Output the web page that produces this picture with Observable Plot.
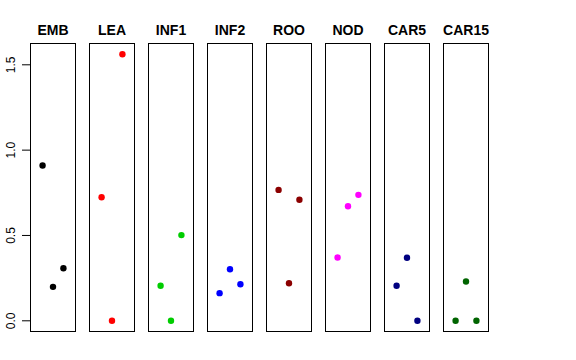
<!DOCTYPE html>
<html>
<head>
<meta charset="utf-8">
<script src="https://cdn.jsdelivr.net/npm/d3@7"></script>
<script src="https://cdn.jsdelivr.net/npm/@observablehq/plot@0.6"></script>
<style>
  html, body { margin: 0; padding: 0; background: #fff; }
</style>
</head>
<body>
<div id="chart"></div>
<script>
// Panel categories and colours
const panels = ["EMB", "LEA", "INF1", "INF2", "ROO", "NOD", "CAR5", "CAR15"];
const colors = ["black", "red", "#00CD00", "blue", "#8B0000", "magenta", "#000080", "#006400"];
const positions = [1, 2, 3];
const yTicks = [0, 0.5, 1.0, 1.5];

// Values per panel (three points each)
const emb   = [0.910, 0.199, 0.308];
const lea   = [0.724, 0.000, 1.562];
const inf1  = [0.205, 0.000, 0.502];
const inf2  = [0.162, 0.302, 0.214];
const roo   = [0.767, 0.220, 0.709];
const nod   = [0.371, 0.671, 0.738];
const car5  = [0.205, 0.369, 0.000];
const car15 = [0.000, 0.230, 0.000];

const series = [emb, lea, inf1, inf2, roo, nod, car5, car15];
const table = [];
panels.forEach((p, i) => {
  series[i].forEach((v, j) => {
    table.push({panel: p, pos: positions[j], value: v, color: colors[i]});
  });
});

const chart = Plot.plot({
  width: 576,
  height: 360,
  marginLeft: 29,
  marginRight: 88,
  marginTop: 43,
  marginBottom: 29,
  style: {fontFamily: "'Liberation Sans', Arial, Helvetica, sans-serif", fontSize: "12px", background: "white", color: "black"},
  fx: {domain: panels, paddingInner: 0.24, paddingOuter: 0, axis: null, label: null},
  x: {domain: [-0.16, 4.16], axis: null},
  y: {domain: [-0.0627, 1.6248], label: null},
  marks: [
    Plot.frame({stroke: "black", strokeWidth: 1}),
    Plot.axisY({ticks: yTicks, tickFormat: d3.format(".1f"), tickSize: 8, tickPadding: 8, tickRotate: -90, label: null, fontSize: 12}),
    Plot.text(panels, {fx: d => d, text: d => d, frameAnchor: "top", dy: -9, lineAnchor: "bottom", fontWeight: "bold", fontSize: 14}),
    Plot.dot(table, {fx: "panel", x: "pos", y: "value", fill: "color", r: 3.2, stroke: null})
  ]
});
document.getElementById("chart").appendChild(chart);
</script>
</body>
</html>
